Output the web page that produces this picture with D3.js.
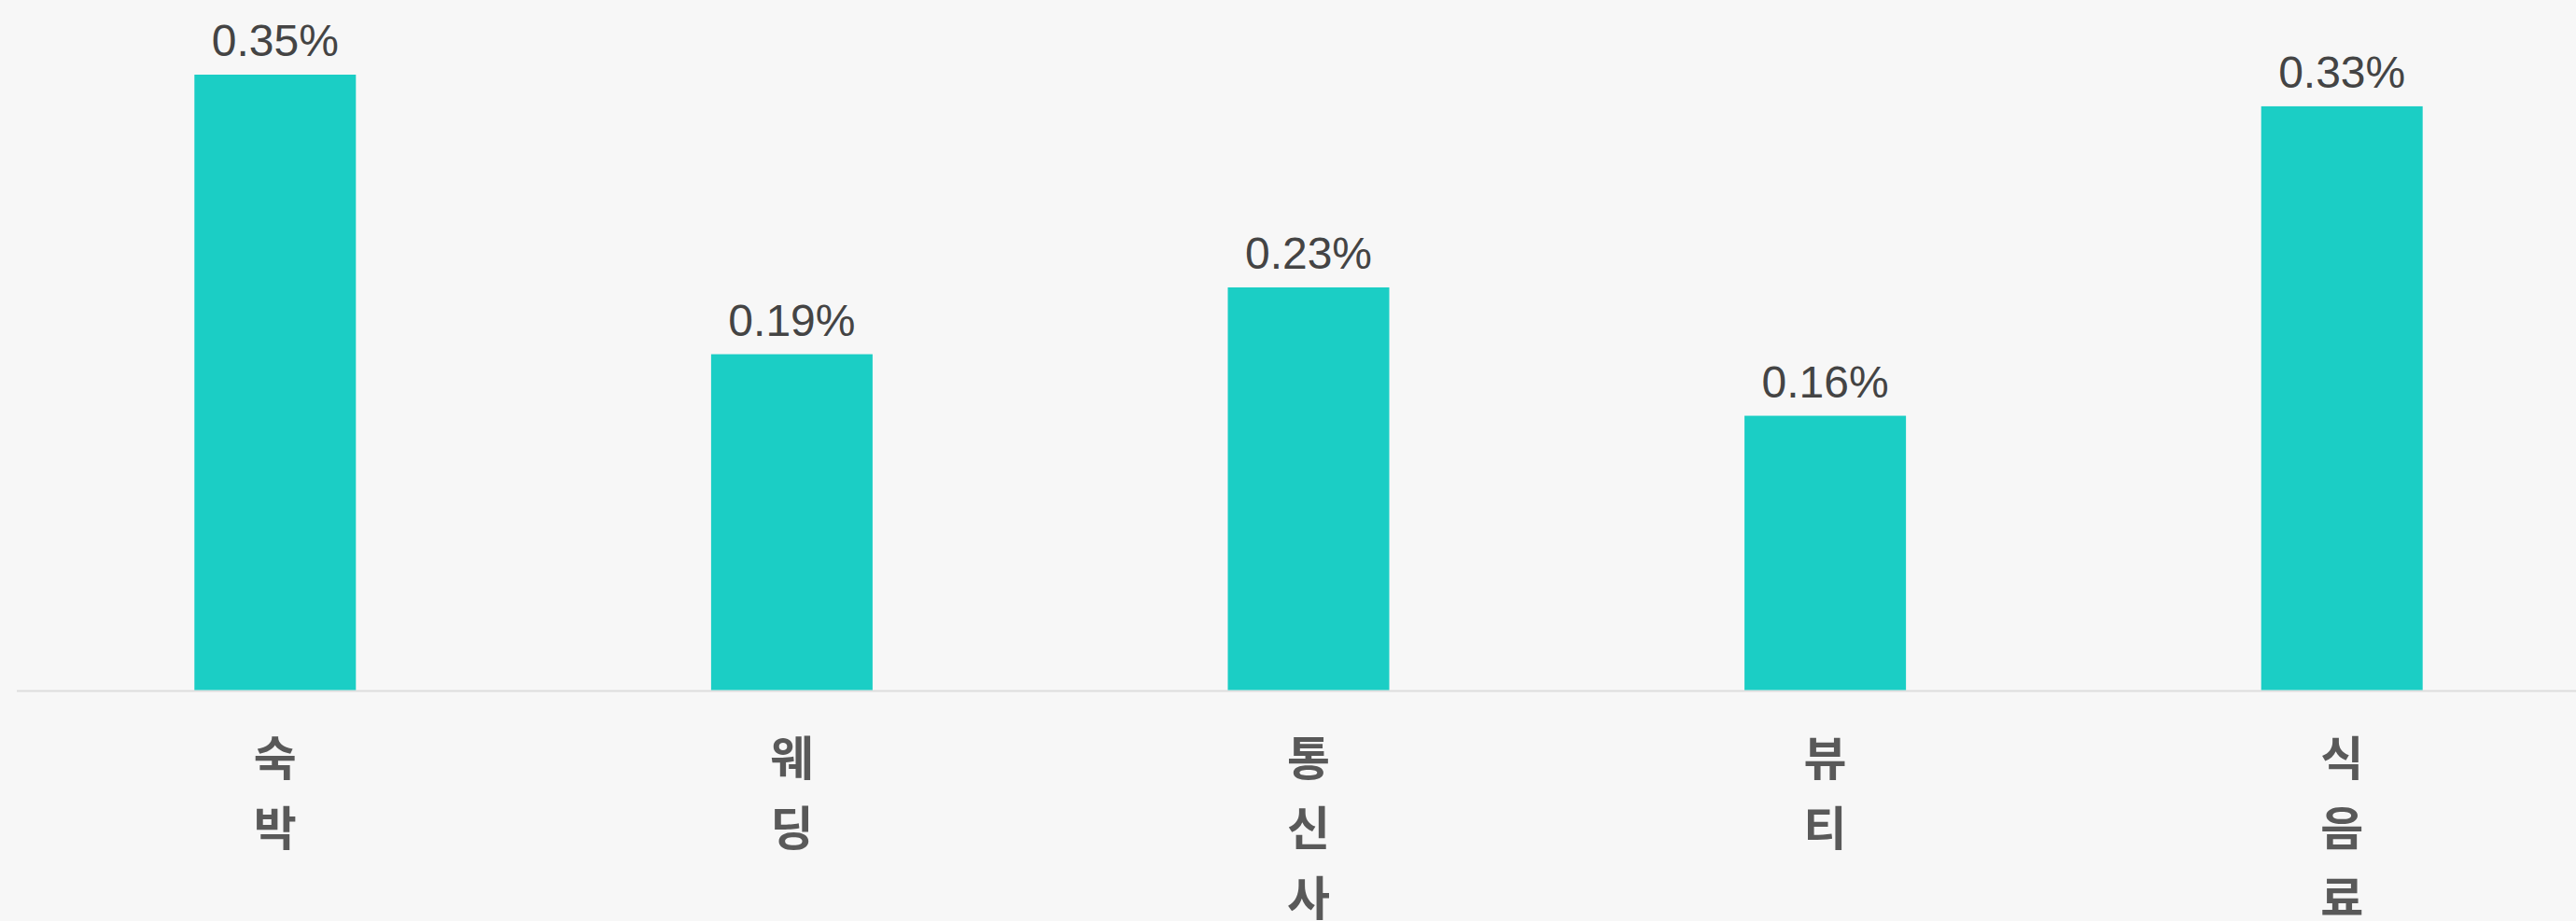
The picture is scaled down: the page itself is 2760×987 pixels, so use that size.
<!DOCTYPE html>
<html>
<head>
<meta charset="utf-8">
<script src="https://cdn.jsdelivr.net/npm/d3@7"></script>
<style>
  html, body { margin: 0; padding: 0; background: #f7f7f7; }
  svg { display: block; }
</style>
</head>
<body>
<svg id="bar-chart" width="2760" height="987"></svg>
<script>
// categories and values (percent)
const categories = ["숙박", "웨딩", "통신사", "뷰티", "식음료"];
const values = [0.35, 0.191, 0.229, 0.156, 0.332];

let svg = d3.select("#bar-chart"),
  width = +svg.attr("width"),
  height = +svg.attr("height"),
  baseline = 739.5;

svg.append("rect")
  .attr("width", width)
  .attr("height", height)
  .attr("fill", "#f7f7f7");

let xScale = d3.scaleBand()
    .domain(categories)
    .range([18, 2786])
    .paddingInner(0.6875)
    .paddingOuter(0.34375),
  yScale = d3.scaleLinear().domain([0, 0.35]).range([baseline, 80]);

const data = categories.map((c, i) => ({ cat: c, value: values[i] }));

// axis line
svg.append("line")
  .attr("x1", 18)
  .attr("x2", width)
  .attr("y1", baseline + 1)
  .attr("y2", baseline + 1)
  .attr("stroke", "#dddddd")
  .attr("stroke-width", 2);

svg.selectAll(".bar")
  .data(data)
  .enter()
  .append("rect")
  .attr("class", "bar")
  .attr("x", d => xScale(d.cat))
  .attr("y", d => yScale(d.value))
  .attr("width", xScale.bandwidth())
  .attr("height", d => baseline - yScale(d.value))
  .attr("fill", "#1bcec5");

svg.selectAll(".nums")
  .data(data)
  .enter()
  .append("text")
  .attr("class", "nums")
  .attr("x", d => xScale(d.cat) + xScale.bandwidth() / 2)
  .attr("y", d => yScale(d.value) - 20)
  .attr("text-anchor", "middle")
  .attr("font-family", "Liberation Sans, Arial, sans-serif")
  .attr("font-size", "48px")
  .attr("fill", "#444444")
  .text(d => d.value.toFixed(2) + "%");

// category labels, one syllable per line
let labels = svg.selectAll(".cat")
  .data(data)
  .enter()
  .append("text")
  .attr("class", "cat")
  .attr("text-anchor", "middle")
  .attr("font-family", "Noto Sans CJK KR, sans-serif")
  .attr("font-weight", "bold")
  .attr("font-size", "50px")
  .attr("fill", "#595959");

labels.selectAll("tspan")
  .data(d => Array.from(d.cat).map(ch => ({ ch: ch, x: xScale(d.cat) + xScale.bandwidth() / 2 })))
  .enter()
  .append("tspan")
  .attr("x", d => d.x)
  .attr("y", (d, i) => 831 + i * 75)
  .text(d => d.ch);
</script>
</body>
</html>
